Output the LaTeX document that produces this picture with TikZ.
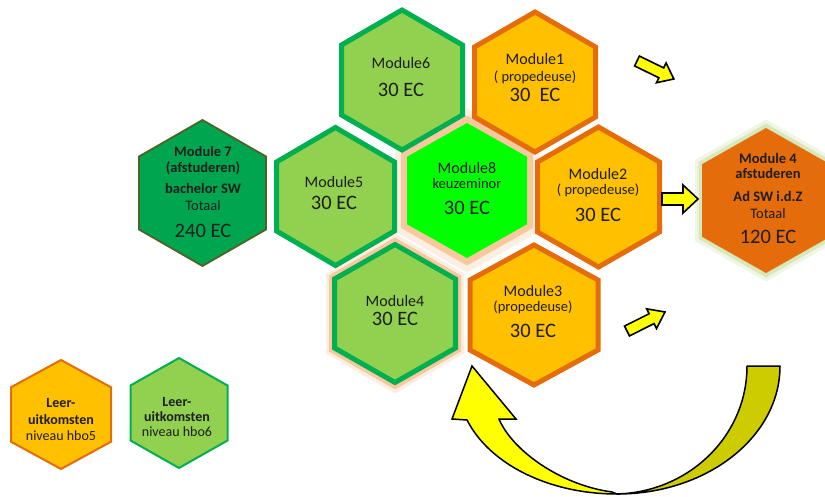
\documentclass[tikz,border=0pt]{standalone}
\usepackage{fontspec}
\setmainfont{Carlito}
\definecolor{lgfill}{HTML}{92D050}
\definecolor{gstroke}{HTML}{00B050}
\definecolor{ofill}{HTML}{FFC000}
\definecolor{ostroke}{HTML}{E46C0A}
\definecolor{brightg}{HTML}{00FF00}
\definecolor{darkg}{HTML}{00A550}
\definecolor{olivestroke}{HTML}{4F6228}
\definecolor{peachA}{HTML}{FDEEE2}
\definecolor{peachB}{HTML}{F9C89E}
\definecolor{halogA}{HTML}{F0F6E4}
\definecolor{halogB}{HTML}{D9E8BC}
\definecolor{yel}{HTML}{FFFF00}
\definecolor{olv}{HTML}{CCCC00}
\definecolor{txt}{HTML}{1E1E1E}
\newcommand\hexp[4]{({#1},{#2-#4}) -- ({#1+#3},{#2-#4/2}) -- ({#1+#3},{#2+#4/2}) -- ({#1},{#2+#4}) -- ({#1-#3},{#2+#4/2}) -- ({#1-#3},{#2-#4/2}) -- cycle}
\newcommand\blockarr[7]{%
  \begin{scope}[shift={(#1,#2)},rotate=#3]
  \filldraw[barrow] (0,{-#7}) -- ({#4-#5},{-#7}) -- ({#4-#5},{-#6}) -- (#4,0) -- ({#4-#5},{#6}) -- ({#4-#5},{#7}) -- (0,{#7}) -- cycle;
  \end{scope}}
\tikzset{
  greenhex/.style={fill=lgfill, draw=gstroke, line width=5pt},
  orangehex/.style={fill=ofill, draw=ostroke, line width=5pt},
  barrow/.style={fill=yel, draw=black, line width=1.6pt, line join=miter},
  lbl/.style={anchor=base, inner sep=0pt, text=txt},
  fmod/.style={lbl, font=\fontsize{16}{19}\selectfont},
  fsub/.style={lbl, font=\fontsize{14.5}{17}\selectfont},
  fec/.style={lbl, font=\fontsize{20.5}{24}\selectfont},
  fbold/.style={lbl, font=\fontsize{14.5}{17}\selectfont\bfseries},
  flegb/.style={lbl, font=\fontsize{14}{16}\selectfont\bfseries},
  flegr/.style={lbl, font=\fontsize{14}{16}\selectfont},
}
\begin{document}
\begin{tikzpicture}[x=1pt,y=-1pt]
\useasboundingbox (0,0) rectangle (825,497);
\fill[white] (0,0) rectangle (825,497);

% glows
\fill[peachA] \hexp{467}{190.5}{72}{82};
\fill[peachB] \hexp{467}{190.5}{66}{75};
\fill[peachA] \hexp{395}{313.5}{69}{80};
\fill[peachB] \hexp{395}{313.5}{66}{76};
\fill[halogA] \hexp{766}{200.5}{71}{81};
\fill[halogB] \hexp{766}{200.5}{67.5}{77};

% hexagons
\path[greenhex] \hexp{402}{80}{60.5}{70};
\path[orangehex] \hexp{535}{82}{60.5}{70};
\fill[brightg] \hexp{467}{190.5}{60}{67.5};
\path[greenhex] \hexp{335.5}{196.5}{59}{69};
\path[orangehex] \hexp{598.5}{197}{61}{70};
\path[greenhex] \hexp{395}{313.5}{60.5}{69};
\path[orangehex] \hexp{534}{315}{64}{70};
\path[fill=darkg, draw=olivestroke, line width=1.8pt] \hexp{202.5}{193}{63.5}{73};
\fill[ostroke] \hexp{766}{200.5}{64}{72.5};
\path[fill=ofill, draw=ostroke, line width=2pt] \hexp{61}{414.5}{50}{54.5};
\path[fill=lgfill, draw=gstroke, line width=2pt] \hexp{179}{413}{48.5}{55};

% Module 6
\node[fmod] (m6a) at (401,69) {Module6};
\node[fec] (m6b) at (401,97) {30 EC};
% Module 1
\node[fmod] (m1a) at (535,65) {Module1};
\node[fsub] (m1b) at (535,82) {( propedeuse)};
\node[fec] (m1c) at (535,102) {30\ \ EC};
% Module 5
\node[fmod] (m5a) at (334,188) {Module5};
\node[fec] (m5b) at (334,210) {30 EC};
% Module 8
\node[fmod] (m8a) at (467,174) {Module8};
\node[fsub] (m8b) at (467,189) {keuzeminor};
\node[fec] (m8c) at (467,215) {30 EC};
% Module 2
\node[fmod] (m2a) at (598,180) {Module2};
\node[fsub] (m2b) at (598,195) {( propedeuse)};
\node[fec] (m2c) at (598,222) {30 EC};
% Module 4 small
\node[fmod] (m4a) at (395,306) {Module4};
\node[fec] (m4b) at (395,325) {30 EC};
% Module 3
\node[fmod] (m3a) at (533,297) {Module3};
\node[fsub] (m3b) at (533,312) {(propedeuse)};
\node[fec] (m3c) at (533,337.5) {30 EC};
% Module 7
\node[fbold] (m7a) at (203,156.5) {Module 7};
\node[fbold] (m7b) at (203,172.5) {(afstuderen)};
\node[fbold] (m7c) at (203,194) {bachelor SW};
\node[fsub] (m7d) at (203,211) {Totaal};
\node[fec] (m7e) at (203,237.5) {240 EC};
% Module 4 right
\node[fbold] (mra) at (768,163.5) {Module 4};
\node[fbold] (mrb) at (768,179) {afstuderen};
\node[fbold] (mrc) at (768,201.5) {Ad SW i.d.Z};
\node[fsub] (mrd) at (768,218.5) {Totaal};
\node[fec] (mre) at (768,243.5) {120 EC};
% legend
\node[flegb] (loa) at (61,407.5) {Leer-};
\node[flegb] (lob) at (61,424) {uitkomsten};
\node[flegr] (loc) at (61,440) {niveau hbo5};
\node[flegb] (lga) at (177,406) {Leer-};
\node[flegb] (lgb) at (177,421.5) {uitkomsten};
\node[flegr] (lgc) at (177,436.5) {niveau hbo6};

% small block arrows
\blockarr{637}{61}{-26}{41}{14}{11}{5.5}
\blockarr{662}{199}{0}{36}{15}{14}{6}
\blockarr{627}{331}{26.6}{42.5}{15}{11}{5.5}

% curved arrow
\filldraw[fill=olv, draw=black, line width=1.5pt, line join=round]
  (747,366) -- (780,366) .. controls (780,437) and (707,494) .. (617,494)
  .. controls (689,492) and (747,436) .. (747,366) -- cycle;
\filldraw[fill=yel, draw=black, line width=1.5pt, line join=miter]
  (617,494) .. controls (550,494) and (490,465) .. (467,420)
  -- (452,419) -- (472,366) -- (516,419) -- (499,419)
  .. controls (512,450) and (560,485) .. (612,492) -- cycle;
\end{tikzpicture}
\end{document}
